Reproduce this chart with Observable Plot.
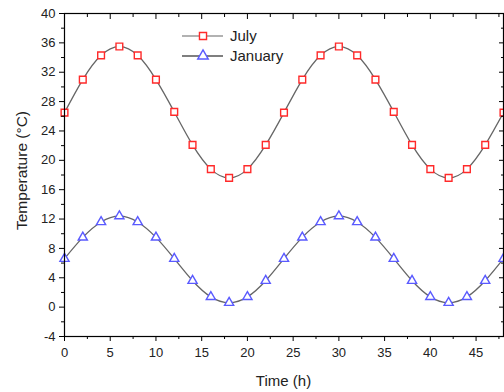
<!DOCTYPE html>
<html>
<head>
<meta charset="utf-8">
<script src="https://cdn.jsdelivr.net/npm/d3@7"></script>
<script src="https://cdn.jsdelivr.net/npm/@observablehq/plot@0.6"></script>
<style>
  html, body { margin: 0; padding: 0; background: #fff; }
  #wrap { position: relative; width: 504px; height: 392px; font-family: "Liberation Sans", Arial, sans-serif; }
  #legend { position: absolute; left: 182px; top: 26px; font-size: 15px; color: #222; line-height: 20px; }
  #legend .row { display: flex; align-items: center; height: 20px; }
  #legend svg { margin-right: 6px; }
</style>
</head>
<body>
<div id="wrap">
  <div id="chart"></div>
  <div id="legend"></div>
</div>
<script>
const hours = [0,2,4,6,8,10,12,14,16,18,20,22,24,26,28,30,32,34,36,38,40,42,44,46,48];
const july = [26.5,31.0,34.3,35.5,34.3,31.0,26.6,22.1,18.8,17.6,18.8,22.1,26.5,31.0,34.3,35.5,34.3,31.0,26.6,22.1,18.8,17.6,18.8,22.1,26.5];
const january = [6.6,9.5,11.6,12.4,11.6,9.5,6.6,3.6,1.4,0.6,1.4,3.6,6.6,9.5,11.6,12.4,11.6,9.5,6.6,3.6,1.4,0.6,1.4,3.6,6.6];
const seriesNames = ["July", "January"];
const xMajor = [0,5,10,15,20,25,30,35,40,45];
const xMinor = [2.5,7.5,12.5,17.5,22.5,27.5,32.5,37.5,42.5,47.5];
const yMajor = [-4,0,4,8,12,16,20,24,28,32,36,40];
const yMinor = [-2,2,6,10,14,18,22,26,30,34,38];

const julyData = hours.map((h, i) => ({h, v: july[i]}));
const janData = hours.map((h, i) => ({h, v: january[i]}));

const lineColor = "#666";
const red = "#ff2a2a";
const blue = "#5a5aff";

const plot = Plot.plot({
  width: 504,
  height: 392,
  marginLeft: 64,
  marginRight: 1,
  marginTop: 13,
  marginBottom: 56,
  style: {fontFamily: "Liberation Sans, Arial, sans-serif", fontSize: "13px", color: "#222", background: "#fff"},
  x: {domain: [0, 48]},
  y: {domain: [-4, 40]},
  marks: [
    Plot.line(julyData, {x: "h", y: "v", curve: "natural", stroke: lineColor, strokeWidth: 1.3}),
    Plot.line(janData, {x: "h", y: "v", curve: "natural", stroke: lineColor, strokeWidth: 1.3}),
    Plot.dot(julyData, {x: "h", y: "v", symbol: "square", r: 3.8, stroke: red, strokeWidth: 1.4, fill: "white"}),
    Plot.dot(janData, {x: "h", y: "v", symbol: "triangle", r: 3.4, stroke: blue, strokeWidth: 1.4, fill: "white"}),
    Plot.frame({stroke: "#000", strokeWidth: 1.2}),
    // bottom axis
    Plot.axisX({ticks: xMajor, tickSize: 5, tickPadding: 6, anchor: "bottom", label: null, fontSize: 13, stroke: "#000", tickFormat: d => String(d)}),
    Plot.axisX({ticks: xMinor, tickSize: 3, anchor: "bottom", tickFormat: () => "", label: null, stroke: "#000"}),
    // top axis inward ticks
    Plot.axisX({ticks: xMajor, tickSize: -5, anchor: "top", tickFormat: () => "", label: null, stroke: "#000"}),
    Plot.axisX({ticks: xMinor, tickSize: -3, anchor: "top", tickFormat: () => "", label: null, stroke: "#000"}),
    // left axis
    Plot.axisY({ticks: yMajor, tickSize: 5, tickPadding: 4, anchor: "left", label: null, fontSize: 13, stroke: "#000", tickFormat: d => String(d)}),
    Plot.axisY({ticks: yMinor, tickSize: 3, anchor: "left", tickFormat: () => "", label: null, stroke: "#000"}),
    // right axis inward ticks
    Plot.axisY({ticks: yMajor, tickSize: -5, anchor: "right", tickFormat: () => "", label: null, stroke: "#000"}),
    Plot.axisY({ticks: yMinor, tickSize: -3, anchor: "right", tickFormat: () => "", label: null, stroke: "#000"})
  ]
});

// axis titles
const svg = d3.select(plot);
svg.append("text")
  .attr("x", 64 + (503 - 64) / 2)
  .attr("y", 386)
  .attr("text-anchor", "middle")
  .attr("font-size", 15)
  .attr("fill", "#222")
  .text("Time (h)");
svg.append("text")
  .attr("transform", `translate(27, ${(13 + 336) / 2 - 4}) rotate(-90)`)
  .attr("text-anchor", "middle")
  .attr("font-size", 15.5)
  .attr("fill", "#222")
  .text("Temperature (°C)");

document.getElementById("chart").appendChild(plot);

// legend
const legend = d3.select("#legend");
const legendStyles = [
  {line: "#666", sym: "square", color: red, size: 50},
  {line: "#000", sym: "triangle", color: blue, size: 48}
];
seriesNames.forEach((name, i) => {
  const row = legend.append("div").attr("class", "row");
  const s = row.append("svg").attr("width", 42).attr("height", 20);
  s.append("line").attr("x1", 0).attr("x2", 41).attr("y1", 10).attr("y2", 10)
    .attr("stroke", legendStyles[i].line).attr("stroke-width", 1.2);
  const sym = legendStyles[i].sym === "square" ? d3.symbolSquare : d3.symbolTriangle;
  s.append("path")
    .attr("d", d3.symbol(sym, legendStyles[i].size)())
    .attr("transform", "translate(21,10)")
    .attr("fill", "white").attr("stroke", legendStyles[i].color).attr("stroke-width", 1.4);
  row.append("span").text(name);
});
</script>
</body>
</html>
